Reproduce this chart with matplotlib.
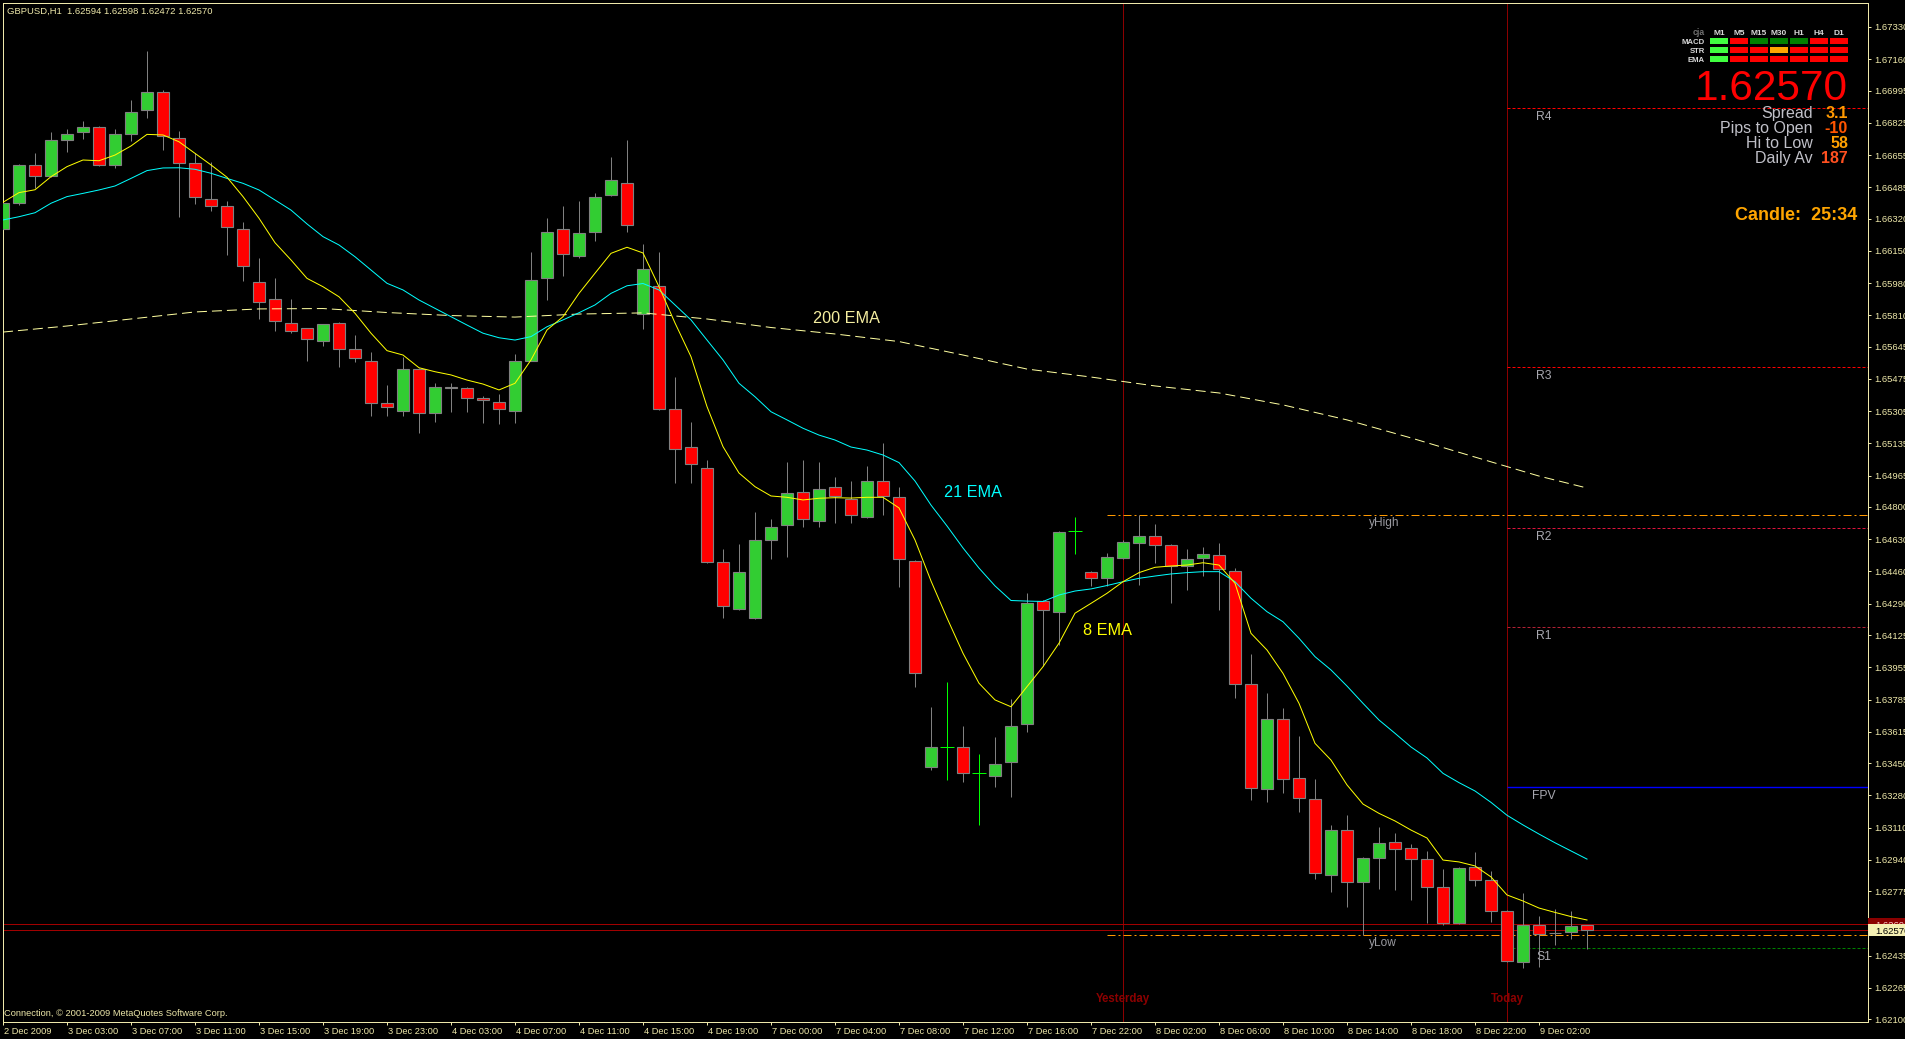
import matplotlib
matplotlib.use("Agg")
import matplotlib.pyplot as plt
from matplotlib.patches import Rectangle
from matplotlib.transforms import offset_copy, blended_transform_factory, ScaledTranslation
import numpy as np

plt.rcParams['font.family'] = ['Liberation Sans', 'DejaVu Sans']
plt.rcParams['lines.scale_dashes'] = False

# ---- data (GBPUSD H1, one bar per hour) ----
opens = [1.66263, 1.66400, 1.66600, 1.66542, 1.66732, 1.66774, 1.66801, 1.66600, 1.66764, 1.66890,
         1.66990, 1.66743, 1.66611, 1.66421, 1.66384, 1.66263, 1.65984, 1.65894, 1.65771, 1.65741,
         1.65673, 1.65771, 1.65631, 1.65571, 1.65346, 1.65304, 1.65525, 1.65293, 1.65435, 1.65425,
         1.65372, 1.65351, 1.65304, 1.65572, 1.66005, 1.66263, 1.66121, 1.66252, 1.66442, 1.66509,
         1.65815, 1.65965, 1.65316, 1.65116, 1.65006, 1.64510, 1.64262, 1.64215, 1.64626, 1.64705,
         1.64879, 1.64726, 1.64905, 1.64842, 1.64747, 1.64937, 1.64853, 1.64515, 1.63429, 1.63535,
         1.63535, 1.63398, 1.63382, 1.63456, 1.63656, 1.64304, 1.64246, 1.64673, 1.64457, 1.64426,
         1.64531, 1.64610, 1.64647, 1.64600, 1.64489, 1.64531, 1.64547, 1.64462, 1.63867, 1.63313,
         1.63682, 1.63372, 1.63261, 1.62860, 1.63097, 1.62823, 1.62950, 1.63034, 1.63002, 1.62944,
         1.62797, 1.62607, 1.62902, 1.62834, 1.62670, 1.62402, 1.62597, 1.62557, 1.62560, 1.62594]
highs = [1.66409, 1.66607, 1.66664, 1.66774, 1.66792, 1.66834, 1.66806, 1.66792, 1.66943, 1.67201,
         1.66996, 1.66781, 1.66664, 1.66621, 1.66411, 1.66300, 1.66112, 1.66007, 1.65896, 1.65746,
         1.65767, 1.65776, 1.65706, 1.65618, 1.65443, 1.65592, 1.65530, 1.65455, 1.65451, 1.65434,
         1.65385, 1.65395, 1.65606, 1.66144, 1.66323, 1.66386, 1.66411, 1.66455, 1.66644, 1.66732,
         1.66184, 1.66144, 1.65485, 1.65248, 1.65048, 1.64579, 1.64605, 1.64774, 1.64737, 1.65037,
         1.65048, 1.65037, 1.64958, 1.64937, 1.65016, 1.65137, 1.64905, 1.64520, 1.63746, 1.63878,
         1.63646, 1.63498, 1.63588, 1.63788, 1.64347, 1.64308, 1.64672, 1.64747, 1.64462, 1.64557,
         1.64626, 1.64758, 1.64710, 1.64605, 1.64579, 1.64589, 1.64610, 1.64478, 1.64025, 1.63820,
         1.63740, 1.63593, 1.63366, 1.63124, 1.63176, 1.62955, 1.63113, 1.63082, 1.63024, 1.62987,
         1.62892, 1.62902, 1.62981, 1.62881, 1.62675, 1.62765, 1.62644, 1.62681, 1.62670, 1.62598]
lows = [1.66242, 1.66391, 1.66483, 1.66537, 1.66672, 1.66739, 1.66595, 1.66588, 1.66730, 1.66850,
        1.66681, 1.66330, 1.66397, 1.66361, 1.66130, 1.65992, 1.65792, 1.65729, 1.65715, 1.65571,
        1.65650, 1.65539, 1.65566, 1.65281, 1.65281, 1.65281, 1.65191, 1.65249, 1.65302, 1.65302,
        1.65244, 1.65235, 1.65244, 1.65567, 1.65891, 1.66019, 1.66110, 1.66202, 1.66437, 1.66251,
        1.65739, 1.65311, 1.64926, 1.64926, 1.64505, 1.64215, 1.64257, 1.64210, 1.64526, 1.64536,
        1.64694, 1.64694, 1.64716, 1.64716, 1.64742, 1.64758, 1.64379, 1.63851, 1.63414, 1.63361,
        1.63350, 1.63124, 1.63324, 1.63271, 1.63614, 1.63962, 1.64073, 1.64552, 1.64384, 1.64384,
        1.64526, 1.64389, 1.64505, 1.64294, 1.64362, 1.64436, 1.64257, 1.63793, 1.63256, 1.63245,
        1.63292, 1.63192, 1.62839, 1.62771, 1.62692, 1.62544, 1.62786, 1.62781, 1.62728, 1.62607,
        1.62597, 1.62602, 1.62802, 1.62612, 1.62402, 1.62370, 1.62375, 1.62491, 1.62523, 1.62472]
closes = [1.66400, 1.66600, 1.66542, 1.66732, 1.66764, 1.66801, 1.66600, 1.66764, 1.66880, 1.66990,
          1.66753, 1.66611, 1.66432, 1.66386, 1.66274, 1.66072, 1.65882, 1.65782, 1.65729, 1.65683,
          1.65762, 1.65631, 1.65583, 1.65346, 1.65325, 1.65525, 1.65293, 1.65435, 1.65425, 1.65372,
          1.65362, 1.65314, 1.65572, 1.65994, 1.66252, 1.66131, 1.66242, 1.66432, 1.66521, 1.66284,
          1.66052, 1.65316, 1.65106, 1.65027, 1.64510, 1.64278, 1.64457, 1.64626, 1.64694, 1.64874,
          1.64737, 1.64895, 1.64858, 1.64758, 1.64937, 1.64858, 1.64526, 1.63925, 1.63535, 1.63535,
          1.63398, 1.63398, 1.63445, 1.63646, 1.64294, 1.64257, 1.64668, 1.64673, 1.64426, 1.64536,
          1.64615, 1.64647, 1.64600, 1.64489, 1.64526, 1.64552, 1.64473, 1.63867, 1.63319, 1.63682,
          1.63366, 1.63266, 1.62871, 1.63097, 1.62823, 1.62950, 1.63029, 1.62997, 1.62944, 1.62797,
          1.62607, 1.62897, 1.62834, 1.62670, 1.62407, 1.62597, 1.62549, 1.62553, 1.62592, 1.62570]

ema8 = [1.66406, 1.66457, 1.66472, 1.66541, 1.66594, 1.66629, 1.66625, 1.66655, 1.66703, 1.66764,
        1.66761, 1.66725, 1.66664, 1.66603, 1.66538, 1.66436, 1.66322, 1.66193, 1.66102, 1.66005,
        1.65961, 1.65908, 1.65821, 1.65716, 1.65624, 1.65601, 1.65534, 1.65513, 1.65496, 1.65469,
        1.65448, 1.65417, 1.65452, 1.65575, 1.65733, 1.65803, 1.65926, 1.66032, 1.66137, 1.66169,
        1.66139, 1.65961, 1.65770, 1.65592, 1.65329, 1.65118, 1.64979, 1.64907, 1.64858, 1.64851,
        1.64837, 1.64846, 1.64849, 1.64847, 1.64851, 1.64851, 1.64795, 1.64626, 1.64410, 1.64215,
        1.64029, 1.63871, 1.63783, 1.63747, 1.63853, 1.63958, 1.64082, 1.64240, 1.64292, 1.64345,
        1.64406, 1.64454, 1.64482, 1.64489, 1.64494, 1.64506, 1.64494, 1.64398, 1.64134, 1.64046,
        1.63923, 1.63765, 1.63554, 1.63466, 1.63335, 1.63234, 1.63185, 1.63145, 1.63097, 1.63055,
        1.62939, 1.62929, 1.62908, 1.62850, 1.62755, 1.62723, 1.62686, 1.62663, 1.62641, 1.62623]
ema21 = [1.66313, 1.66330, 1.66351, 1.66401, 1.66436, 1.66453, 1.66471, 1.66492, 1.66532, 1.66573,
         1.66587, 1.66588, 1.66580, 1.66559, 1.66532, 1.66506, 1.66471, 1.66418, 1.66365, 1.66292,
         1.66225, 1.66181, 1.66119, 1.66049, 1.65979, 1.65944, 1.65891, 1.65847, 1.65803, 1.65759,
         1.65716, 1.65692, 1.65680, 1.65698, 1.65750, 1.65786, 1.65824, 1.65865, 1.65926, 1.65966,
         1.65978, 1.65944, 1.65865, 1.65786, 1.65680, 1.65575, 1.65452, 1.65381, 1.65302, 1.65259,
         1.65215, 1.65179, 1.65153, 1.65116, 1.65100, 1.65074, 1.65034, 1.64937, 1.64810, 1.64700,
         1.64584, 1.64478, 1.64384, 1.64307, 1.64304, 1.64302, 1.64336, 1.64357, 1.64368, 1.64386,
         1.64406, 1.64424, 1.64436, 1.64447, 1.64454, 1.64459, 1.64459, 1.64406, 1.64319, 1.64248,
         1.64195, 1.64108, 1.64011, 1.63941, 1.63856, 1.63765, 1.63677, 1.63607, 1.63535, 1.63477,
         1.63396, 1.63347, 1.63303, 1.63243, 1.63175, 1.63124, 1.63076, 1.63030, 1.62987, 1.62944]
ema200_bar = [0, 4, 8, 12, 16, 20, 24, 28, 32, 36, 40, 44, 48, 52, 56, 60, 64, 68, 72, 76, 80, 84, 88, 92, 96, 99]
ema200 = [1.65722, 1.65754, 1.65791, 1.65828, 1.65844, 1.65846, 1.65825, 1.65809, 1.65801, 1.65817,
          1.65823, 1.65791, 1.65746, 1.65712, 1.65672, 1.65601, 1.65527, 1.65485, 1.65438, 1.65401,
          1.65338, 1.65259, 1.65164, 1.65063, 1.64963, 1.64900]

time_labels = ['2 Dec 2009', '3 Dec 03:00', '3 Dec 07:00', '3 Dec 11:00', '3 Dec 15:00', '3 Dec 19:00',
               '3 Dec 23:00', '4 Dec 03:00', '4 Dec 07:00', '4 Dec 11:00', '4 Dec 15:00', '4 Dec 19:00',
               '7 Dec 00:00', '7 Dec 04:00', '7 Dec 08:00', '7 Dec 12:00', '7 Dec 16:00', '7 Dec 22:00',
               '8 Dec 02:00', '8 Dec 06:00', '8 Dec 10:00', '8 Dec 14:00', '8 Dec 18:00', '8 Dec 22:00',
               '9 Dec 02:00']
time_label_bars = list(range(0, 97, 4))
price_ticks = [1.67330, 1.67160, 1.66995, 1.66825, 1.66655, 1.66485, 1.66320, 1.66150, 1.65980, 1.65810,
               1.65645, 1.65475, 1.65305, 1.65135, 1.64965, 1.64800, 1.64630, 1.64460, 1.64290, 1.64125,
               1.63955, 1.63785, 1.63615, 1.63450, 1.63280, 1.63110, 1.62940, 1.62775, 1.62435, 1.62265,
               1.62100]

pivot_names = ['R4', 'R3', 'R2', 'R1', 'FPV', 'S1']
pivot_values = [1.66905, 1.65538, 1.64690, 1.64170, 1.63325, 1.62477]
y_high, y_low = 1.64758, 1.62544
bid, ask = 1.62570, 1.62601
yesterday_bar, today_bar = 70, 94

sig_rows = ['MACD', 'STR', 'EMA']
sig_tfs = ['M1', 'M5', 'M15', 'M30', 'H1', 'H4', 'D1']
sig_states = [['up', 'dn', 'up2', 'up2', 'up2', 'dn', 'dn'],
              ['up', 'dn', 'dn', 'flat', 'dn', 'dn', 'dn'],
              ['up', 'dn', 'dn', 'dn', 'dn', 'dn', 'dn']]
info_names = ['Spread', 'Pips to Open', 'Hi to Low', 'Daily Av']
info_values = ['3.1', '-10', '58', '187']

# ---- styling ----
W, H = 1906, 1039
FG = '#eee8aa'
BULL, BEAR, WICK, DOJI = '#32cd32', '#ff0000', '#808080', '#00ff00'
PX = 0.72  # one pixel in points at 100 dpi


def fx(px):
    return px / W


def fy(py):
    return 1 - py / H


fig = plt.figure(figsize=(W / 100, H / 100), dpi=100, facecolor='black')
ax = fig.add_axes([fx(3), fy(1022), 1865 / W, 1019 / H], facecolor='black')
ax.set_xlim(0, 1865 / 16)
ax.set_ylim(1.620853, 1.674565)
xmax = 1865 / 16

o, h, l, c = (np.array(a) for a in (opens, highs, lows, closes))
x = np.arange(len(o))
up, dn, dj = c > o, c < o, c == o

# day separators
for b in (yesterday_bar, today_bar):
    ax.axvline(b, color='#8b0000', lw=PX, zorder=1)
day_tr = blended_transform_factory(ax.transData, fig.transFigure)
ax.text(yesterday_bar, fy(1002), 'Yesterday', transform=day_tr, color='#8b0000',
        fontsize=8.3, fontweight='bold', ha='center', va='baseline')
ax.text(today_bar, fy(1002), 'Today', transform=day_tr, color='#8b0000',
        fontsize=8.3, fontweight='bold', ha='center', va='baseline')

# bid / ask
ax.axhline(bid, color='#a00000', lw=PX, zorder=1.5)
ax.axhline(ask, color='#a00000', lw=PX, zorder=1.5)

# pivots
piv_colors = ['#ff0000', '#ff0000', '#dc143c', '#b22234', '#0000ff', '#008000']
for name, val, col in zip(pivot_names, pivot_values, piv_colors):
    ls = '-' if name == 'FPV' else (0, (3 * PX, 2 * PX))
    ax.hlines(val, today_bar, xmax, color=col, lw=PX * (1.4 if name == 'FPV' else 1), linestyles=[ls], zorder=1.5)
    t = offset_copy(ax.transData, fig=fig, x=0, y=-12 * PX, units='points')
    ax.text(96.3, val, name, transform=t, color='#a8a8b0', fontsize=8.7, ha='center', va='baseline')

for name, val in (('yHigh', y_high), ('yLow', y_low)):
    ax.hlines(val, 69, xmax, color='#ff9900', lw=PX, linestyles=[(0, (8 * PX, 3 * PX, 2 * PX, 3 * PX))], zorder=1.5)
    t = offset_copy(ax.transData, fig=fig, x=0, y=-11 * PX, units='points')
    ax.text(85.4, val, name, transform=t, color='#9a9aa0', fontsize=8.6, ha='left', va='baseline')

# candles
ax.vlines(x[~dj], l[~dj], h[~dj], color=WICK, lw=PX, zorder=2)
ax.bar(x[up], (c - o)[up], bottom=o[up], width=0.69, color=BULL, edgecolor=WICK, linewidth=0.8, zorder=3)
ax.bar(x[dn], (o - c)[dn], bottom=c[dn], width=0.69, color=BEAR, edgecolor=WICK, linewidth=0.8, zorder=3)
ax.vlines(x[dj], l[dj], h[dj], color=DOJI, lw=PX, zorder=3)
ax.hlines(o[dj], x[dj] - 0.45, x[dj] + 0.45, color=DOJI, lw=PX, zorder=3)

# moving averages
ax.plot(ema200_bar, ema200, color='#ffffa0', lw=PX, ls=(0, (10 * PX, 5 * PX)), zorder=4)
ax.plot(x, ema21, color='#00ffff', lw=PX, zorder=4)
ax.plot(x, ema8, color='#ffff00', lw=PX, zorder=4)
ax.text(50.6, 1.65771, '200 EMA', color='#f5eea0', fontsize=11.7, va='baseline')
ax.text(58.8, 1.64853, '21 EMA', color='#00ffff', fontsize=11.7, va='baseline')
ax.text(67.5, 1.64125, '8 EMA', color='#ffff00', fontsize=11.7, va='baseline')

# axes look
for s in ax.spines.values():
    s.set_color(FG)
    s.set_linewidth(PX)
ax.yaxis.tick_right()
ax.set_yticks(price_ticks, [f'{v:.5f}' for v in price_ticks])
ax.set_xticks(time_label_bars, time_labels)
ax.tick_params(axis='y', colors=FG, labelsize=6.8, length=3 * PX, width=PX, pad=2.5)
ax.tick_params(axis='x', colors=FG, labelsize=6.7, length=3 * PX, width=PX, pad=1.5)
shift = ScaledTranslation(1 / 100, 0, fig.dpi_scale_trans)
for lab in ax.get_xticklabels():
    lab.set_ha('left')
    lab.set_transform(lab.get_transform() + shift)

# price tags on the scale
fig.patches.append(Rectangle((fx(1868), fy(930)), 38 / W, 12 / H, transform=fig.transFigure,
                             facecolor='#8b0000', edgecolor='none', zorder=5))
fig.text(fx(1875), fy(928), f'{ask:.5f}', color='#ffd0d0', fontsize=6.8, va='baseline', zorder=6)
fig.patches.append(Rectangle((fx(1868), fy(936)), 38 / W, 12 / H, transform=fig.transFigure,
                             facecolor='#f5f0b4', edgecolor='none', zorder=7))
fig.text(fx(1875), fy(934), f'{bid:.5f}', color='black', fontsize=6.8, va='baseline', zorder=8)

# header and footer
fig.text(fx(7), fy(14), 'GBPUSD,H1  %.5f %.5f %.5f %.5f' % (opens[-1], highs[-1], lows[-1], closes[-1]),
         color=FG, fontsize=6.8, va='baseline')
fig.text(fx(4), fy(1016), 'Connection, \u00a9 2001-2009 MetaQuotes Software Corp.', color=FG,
         fontsize=6.7, va='baseline')

# signal panel
state_col = {'up': '#40ff40', 'up2': '#008000', 'dn': '#ff0000', 'flat': '#ffa500'}
fig.text(fx(1705), fy(35), 'cja', color='#707070', fontsize=6.2, fontweight='bold', ha='right', va='baseline')
for j, tf in enumerate(sig_tfs):
    fig.text(fx(1719 + 20 * j), fy(35), tf, color='#d8d8d8', fontsize=6, fontweight='bold',
             ha='center', va='baseline')
for r, name in enumerate(sig_rows):
    fig.text(fx(1705), fy(44 + 9 * r), name, color='#d8d8d8', fontsize=5.6, fontweight='bold',
             ha='right', va='baseline')
    for j, st in enumerate(sig_states[r]):
        fig.patches.append(Rectangle((fx(1710 + 20 * j), fy(44 + 9 * r)), 18 / W, 6 / H,
                                     transform=fig.transFigure, facecolor=state_col[st], edgecolor='none'))

fig.text(fx(1848), fy(100), f'{closes[-1]:.5f}', color='#ff0000', fontsize=30.5, ha='right', va='baseline')
val_cols = ['#ff9900', '#ff5500', '#ffa000', '#ff5020']
for k, (name, v) in enumerate(zip(info_names, info_values)):
    fig.text(fx(1813), fy(118 + 15 * k), name, color='#c0c0c8', fontsize=11.5, ha='right', va='baseline')
    fig.text(fx(1848), fy(118 + 15 * k), v, color=val_cols[k], fontsize=11.5, fontweight='bold',
             ha='right', va='baseline')
fig.text(fx(1857), fy(220), 'Candle:  25:34', color='#ffa500', fontsize=13, fontweight='bold',
         ha='right', va='baseline')

fig.savefig('out.png', dpi=100, facecolor='black')
